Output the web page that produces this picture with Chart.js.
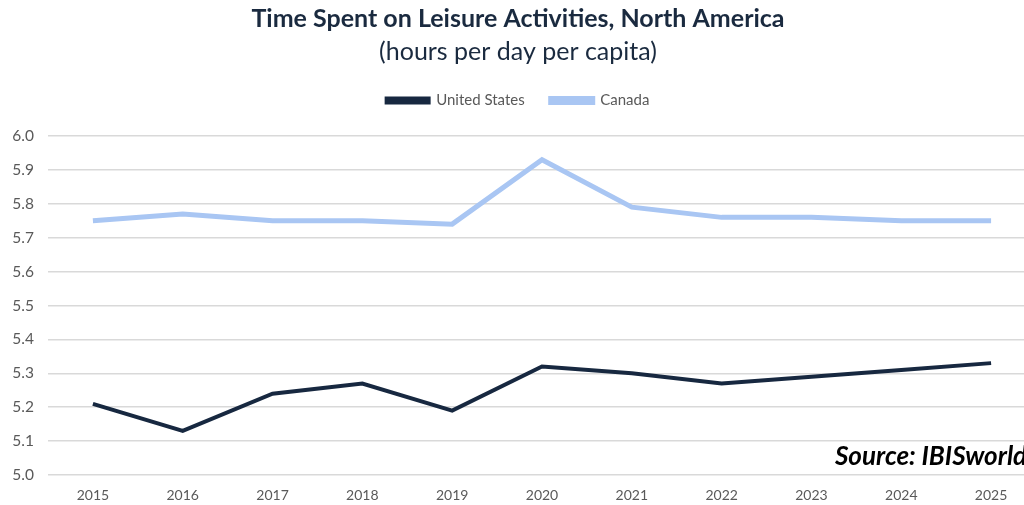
<!DOCTYPE html>
<html>
<head>
<meta charset="utf-8">
<title>Leisure time, North America</title>
<script src="https://cdn.jsdelivr.net/npm/chart.js@4.4.1/dist/chart.umd.min.js"></script>
<style>
  html, body { margin: 0; padding: 0; background: #fff; overflow: hidden; }
  #wrap { width: 1024px; height: 505px; overflow: hidden; }
</style>
</head>
<body>
<div id="wrap">
  <canvas id="leisure" width="1050" height="505"></canvas>
</div>
<script>
const years = ["2015", "2016", "2017", "2018", "2019", "2020", "2021", "2022", "2023", "2024", "2025"];
const unitedStates = [5.21, 5.13, 5.24, 5.27, 5.19, 5.32, 5.30, 5.27, 5.29, 5.31, 5.33];
const canada = [5.75, 5.77, 5.75, 5.75, 5.74, 5.93, 5.79, 5.76, 5.76, 5.75, 5.75];
const yTicks = [5.0, 5.1, 5.2, 5.3, 5.4, 5.5, 5.6, 5.7, 5.8, 5.9, 6.0];

const FONT = "Lato, 'Open Sans', sans-serif";

// extra room under the legend before the plot starts
const legendGap = {
  id: "legendGap",
  beforeInit(chart) {
    const fit = chart.legend.fit;
    chart.legend.fit = function () {
      fit.call(this);
      this.height += 18;
    };
  }
};

// "Source" note sitting in the bottom right corner of the plot
const sourceNote = {
  id: "sourceNote",
  afterDraw(chart) {
    const ctx = chart.ctx;
    ctx.save();
    ctx.font = "italic bold 26px " + FONT;
    ctx.fillStyle = "#000";
    ctx.textBaseline = "middle";
    ctx.textAlign = "left";
    ctx.fillText("Source: IBISworld", 835, 457);
    ctx.restore();
  }
};

const ctx = document.getElementById("leisure");
const chart = new Chart(ctx, {
  type: "line",
  data: {
    labels: years,
    datasets: [{
      label: "United States",
      data: unitedStates,
      borderColor: "#172840",
      backgroundColor: "#172840",
      borderWidth: 4,
      pointRadius: 0,
      tension: 0
    }, {
      label: "Canada",
      data: canada,
      borderColor: "#a9c6f3",
      backgroundColor: "#a9c6f3",
      borderWidth: 5,
      pointRadius: 0,
      tension: 0
    }]
  },
  options: {
    responsive: false,
    devicePixelRatio: 1,
    animation: false,
    layout: { padding: { left: 0, right: 14, top: 0, bottom: 0 } },
    plugins: {
      title: {
        display: true,
        text: "Time Spent on Leisure Activities, North America",
        color: "#1a2a3f",
        font: { family: FONT, size: 25, weight: "bold" },
        padding: { top: 4, bottom: 3 }
      },
      subtitle: {
        display: true,
        text: "(hours per day per capita)",
        color: "#1a2a3f",
        font: { family: FONT, size: 25 },
        padding: { top: 0, bottom: 0 }
      },
      legend: {
        position: "top",
        labels: {
          boxWidth: 42,
          boxHeight: 4,
          padding: 26,
          color: "#595959",
          font: { family: FONT, size: 15 }
        }
      },
      tooltip: { enabled: false }
    },
    scales: {
      x: {
        offset: true,
        grid: { display: false, drawTicks: false },
        border: { display: false },
        ticks: { color: "#595959", font: { family: FONT, size: 14 }, padding: 12, maxRotation: 0 },
        afterFit(scale) { scale.height = 30; }
      },
      y: {
        min: 5.0,
        max: 6.0,
        afterBuildTicks(scale) { scale.ticks = yTicks.map(v => ({ value: v })); },
        grid: { color: "#d9d9d9", lineWidth: 1.5, drawTicks: false },
        border: { display: false },
        ticks: {
          color: "#595959",
          font: { family: FONT, size: 15.5 },
          padding: 14,
          callback: v => v.toFixed(1)
        },
        afterFit(scale) { scale.width = 48; }
      }
    }
  },
  plugins: [legendGap, sourceNote]
});
</script>
</body>
</html>
